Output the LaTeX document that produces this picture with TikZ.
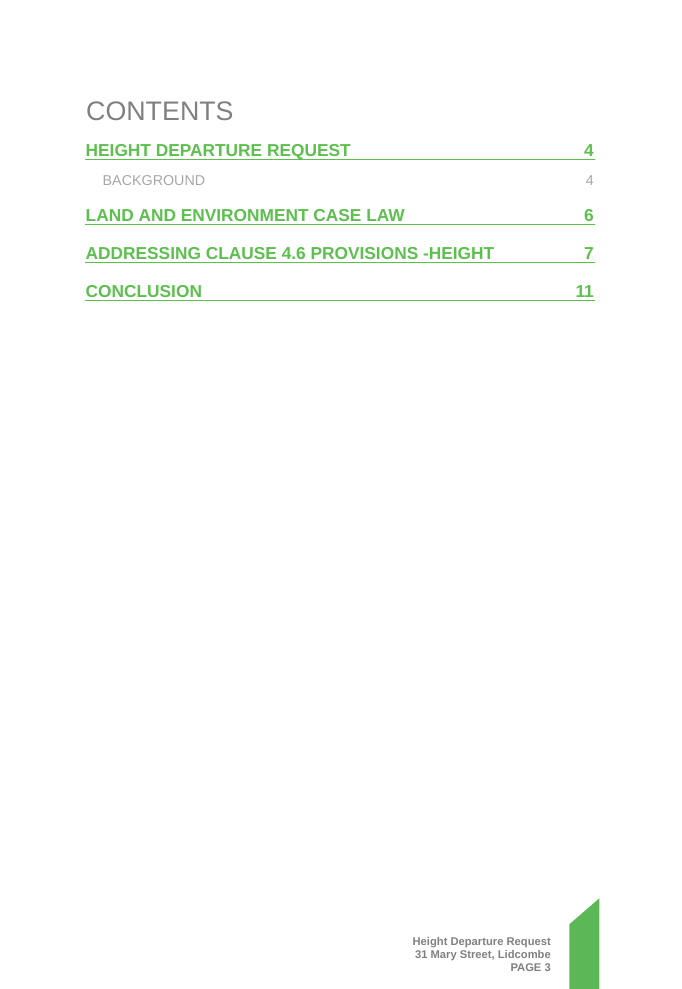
\documentclass[tikz,border=0pt]{standalone}
\usepackage{fontspec}
\setmainfont{Liberation Sans}
\definecolor{tocgreen}{RGB}{92,191,78}
\definecolor{tabgreen}{RGB}{92,184,86}
\definecolor{headgray}{RGB}{128,128,128}
\definecolor{subgray}{RGB}{166,166,166}
\definecolor{footgray}{RGB}{128,128,128}
\tikzset{
  lvlone/.style={inner sep=0pt, text=tocgreen, font=\fontsize{17.3}{20}\selectfont\bfseries},
  lvltwo/.style={inner sep=0pt, text=subgray, font=\fontsize{14.3}{17}\selectfont},
  uline/.style={draw=tocgreen, line width=1.3pt},
  foot/.style={inner sep=0pt, text=footgray, font=\fontsize{11.2}{13}\selectfont\bfseries, anchor=base east}
}
\begin{document}
\begin{tikzpicture}[x=1pt,y=-1pt]
\useasboundingbox (0,0) rectangle (682,989);
\node[inner sep=0pt, anchor=base west, text=headgray, font=\fontsize{26.8}{32}\selectfont] (title) at (86,120.3) {CONTENTS};
% entry 1
\node[lvlone, anchor=base west] (e1) at (85.5,156.8) {HEIGHT DEPARTURE REQUEST};
\node[lvlone, anchor=base east] (p1) at (594,156.8) {4};
\draw[uline] (85,159.8) -- (594.5,159.8);
% sub entry
\node[lvltwo, anchor=base west] (s1) at (102.5,185.2) {BACKGROUND};
\node[lvltwo, anchor=base east] (sp1) at (594,185.2) {4};
% entry 2
\node[lvlone, anchor=base west] (e2) at (85.5,221.8) {LAND AND ENVIRONMENT CASE LAW};
\node[lvlone, anchor=base east] (p2) at (594,221.8) {6};
\draw[uline] (85,224.5) -- (594.5,224.5);
% entry 3
\node[lvlone, anchor=base west] (e3) at (85.5,259.8) {ADDRESSING CLAUSE 4.6 PROVISIONS -HEIGHT};
\node[lvlone, anchor=base east] (p3) at (594,259.8) {7};
\draw[uline] (85,262.6) -- (594.5,262.6);
% entry 4
\node[lvlone, anchor=base west] (e4) at (85.5,297.6) {CONCLUSION};
\node[lvlone, anchor=base east] (p4) at (594,297.6) {11};
\draw[uline] (85,300.6) -- (594.5,300.6);
% footer
\node[foot] (f1) at (551,945.3) {Height Departure Request};
\node[foot] (f2) at (551,958.3) {31 Mary Street, Lidcombe};
\node[foot] (f3) at (551,971.3) {PAGE 3};
\fill[tabgreen] (569.3,924.3) -- (599.3,898.3) -- (599.3,989) -- (569.3,989) -- cycle;
\end{tikzpicture}
\end{document}
